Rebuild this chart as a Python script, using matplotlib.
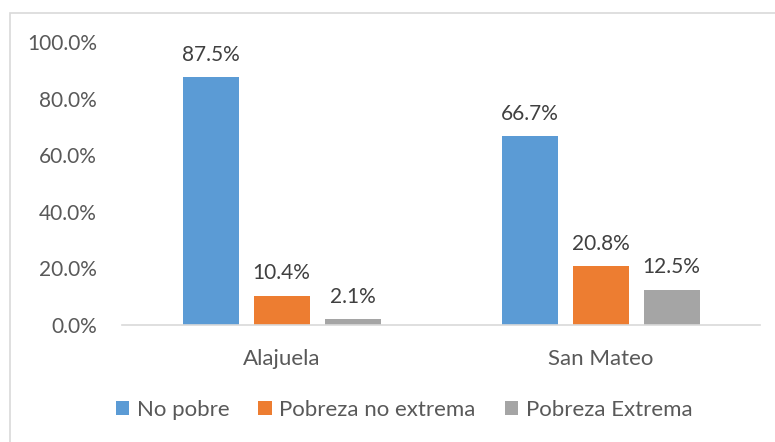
import matplotlib
matplotlib.use("Agg")
import matplotlib.pyplot as plt
from matplotlib.patches import Rectangle, Patch
import numpy as np

categories = ["Alajuela", "San Mateo"]
series_names = ["No pobre", "Pobreza no extrema", "Pobreza Extrema"]
no_pobre = [87.5, 66.7]
pobreza_no_extrema = [10.4, 20.8]
pobreza_extrema = [2.1, 12.5]
y_ticks = [0, 20, 40, 60, 80, 100]

colors = ["#5B9BD5", "#ED7D31", "#A5A5A5"]
plt.rcParams["font.family"] = ["Lato", "DejaVu Sans"]

fig = plt.figure(figsize=(7.75, 4.42), dpi=100)
fig.patches.append(Rectangle((10/775, -0.05), 1.2, 1 - 13/442 + 0.05, transform=fig.transFigure,
                             fill=False, edgecolor="#D9D9D9", linewidth=1.2, zorder=0))
ax = fig.add_axes([122/775, 1 - 325/442, (760-122)/775, (325-42)/442])

x = np.arange(len(categories))
width = 56/319
step = 71/319
data = [no_pobre, pobreza_no_extrema, pobreza_extrema]
for i, (vals, c, name) in enumerate(zip(data, colors, series_names)):
    pos = x + (i - 1) * step
    ax.bar(pos, vals, width=width, color=c, label=name, zorder=2)
    for p, v in zip(pos, vals):
        ax.text(p, v + 4.3, f"{v:.1f}%", ha="center", va="bottom", fontsize=15, color="#404040")

ax.set_xlim(-0.5, 1.5)
ax.set_ylim(0, 100)
ax.set_yticks(y_ticks)
ax.set_yticklabels([f"{t:.1f}%" for t in y_ticks], fontsize=15, color="#595959")
ax.set_xticks(x)
ax.set_xticklabels(categories, fontsize=16, color="#595959")
ax.tick_params(axis="both", length=0)
ax.tick_params(axis="y", pad=18)
ax.tick_params(axis="x", pad=17)
for s in ["top", "right", "left"]:
    ax.spines[s].set_visible(False)
ax.spines["bottom"].set_color("#D9D9D9")
ax.spines["bottom"].set_linewidth(1.2)

handles = [Patch(facecolor=c, edgecolor="none") for c in colors]
fig.legend(handles, series_names, loc="center", bbox_to_anchor=(404/775, 1 - 410/442), ncol=3,
           frameon=False, fontsize=16, handlelength=0.6, handleheight=0.6, handletextpad=0.35,
           columnspacing=1.3, labelcolor="#595959")

fig.savefig("out.png", dpi=100)
